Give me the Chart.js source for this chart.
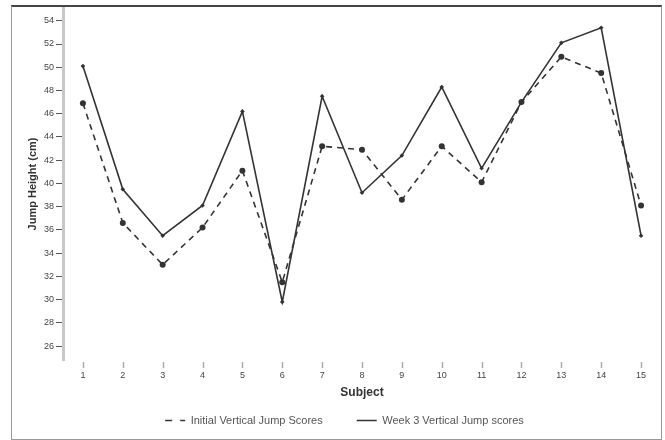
<!DOCTYPE html>
<html>
<head>
<meta charset="utf-8">
<script src="https://cdn.jsdelivr.net/npm/chart.js@4"></script>
<style>
  html, body { margin: 0; padding: 0; background: #fff; }
  #wrap { position: relative; width: 665px; height: 440px; }
  #frame {
    position: absolute; left: 11px; top: 5px; width: 649px; height: 432px;
    border: 1px solid #999; border-top: 2px solid #444; pointer-events: none;
  }
</style>
</head>
<body>
<div id="wrap">
  <canvas id="jumpchart" width="665" height="440"></canvas>
  <div id="frame"></div>
</div>
<script>
var subjects = ["1", "2", "3", "4", "5", "6", "7", "8", "9", "10", "11", "12", "13", "14", "15"];
var initialScores = [46.9, 36.6, 33.0, 36.2, 41.1, 31.5, 43.2, 42.9, 38.6, 43.2, 40.1, 47.0, 50.9, 49.5, 38.1];
var week3Scores = [50.1, 39.5, 35.5, 38.1, 46.2, 29.8, 47.5, 39.2, 42.4, 48.3, 41.3, 47.0, 52.1, 53.4, 35.5];
var yTicks = [26, 28, 30, 32, 34, 36, 38, 40, 42, 44, 46, 48, 50, 52, 54];

var FONT = "'Liberation Sans', Arial, sans-serif";

// small vertical tick marks under the x axis (gap below the plot area)
var xTickMarks = {
  id: 'xTickMarks',
  afterDraw: function(chart) {
    var ctx = chart.ctx;
    var xs = chart.scales.x;
    var top = chart.chartArea.bottom;
    ctx.save();
    ctx.strokeStyle = '#aaa';
    ctx.lineWidth = 1.5;
    for (var i = 0; i < subjects.length; i++) {
      var px = Math.round(xs.getPixelForTick(i)) + 0.5;
      ctx.beginPath();
      ctx.moveTo(px, top + 2);
      ctx.lineTo(px, top + 8);
      ctx.stroke();
    }
    ctx.restore();
  }
};

var ctx = document.getElementById("jumpchart").getContext('2d');
var myChart = new Chart(ctx, {
  type: "line",
  data: {
    labels: subjects,
    datasets: [
      {
        label: "Initial Vertical Jump Scores",
        data: initialScores,
        borderColor: "#333",
        backgroundColor: "#333",
        borderWidth: 1.6,
        borderDash: [6, 5],
        pointStyle: 'circle',
        pointRadius: 3,
        pointBorderWidth: 0,
        tension: 0
      },
      {
        label: "Week 3 Vertical Jump scores",
        data: week3Scores,
        borderColor: "#333",
        backgroundColor: "#333",
        borderWidth: 1.6,
        pointStyle: 'rectRot',
        pointRadius: 2.3,
        pointBorderWidth: 0,
        tension: 0
      }
    ]
  },
  options: {
    responsive: false,
    animation: false,
    layout: { padding: { left: 26, right: 2, top: 8, bottom: 4 } },
    plugins: {
      tooltip: { enabled: false },
      legend: {
        position: 'bottom',
        maxHeight: 55,   // keeps the box short while padding spreads the items apart
        labels: {
          usePointStyle: true,
          pointStyle: 'line',
          pointStyleWidth: 20,
          boxHeight: 11,
          padding: 34,
          color: '#555',
          font: { family: FONT, size: 11 },
          generateLabels: function(chart) {
            var items = Chart.defaults.plugins.legend.labels.generateLabels(chart);
            items.forEach(function(it, i) {
              it.lineDash = i === 0 ? [7, 8] : [];
              it.lineWidth = 1.5;
              it.strokeStyle = '#333';
            });
            return items;
          }
        }
      }
    },
    scales: {
      x: {
        offset: true,
        border: { display: false },
        grid: { display: false, drawTicks: false },
        ticks: {
          padding: 10,
          color: '#444',
          font: { family: FONT, size: 9 }
        },
        title: {
          display: true,
          text: 'Subject',
          color: '#333',
          padding: { top: 0, bottom: -19 },
          font: { family: FONT, size: 12, weight: 'bold' }
        },
        afterFit: function(scale) { scale.height = 21; }
      },
      y: {
        min: 24.8,
        max: 55.1,
        border: { display: true, color: '#c8c8c8', width: 3 },
        grid: { drawOnChartArea: false, drawTicks: true, tickLength: 7, tickColor: '#555', tickWidth: 1 },
        afterBuildTicks: function(scale) {
          scale.ticks = yTicks.map(function(v) { return { value: v }; });
        },
        ticks: {
          padding: 2,
          color: '#444',
          font: { family: FONT, size: 9 }
        },
        title: {
          display: true,
          text: 'Jump Height (cm)',
          color: '#333',
          padding: { top: 0, bottom: 0 },
          font: { family: FONT, size: 11, weight: 'bold' }
        },
        afterFit: function(scale) { scale.width = 37; }
      }
    }
  },
  plugins: [xTickMarks]
});
</script>
</body>
</html>
